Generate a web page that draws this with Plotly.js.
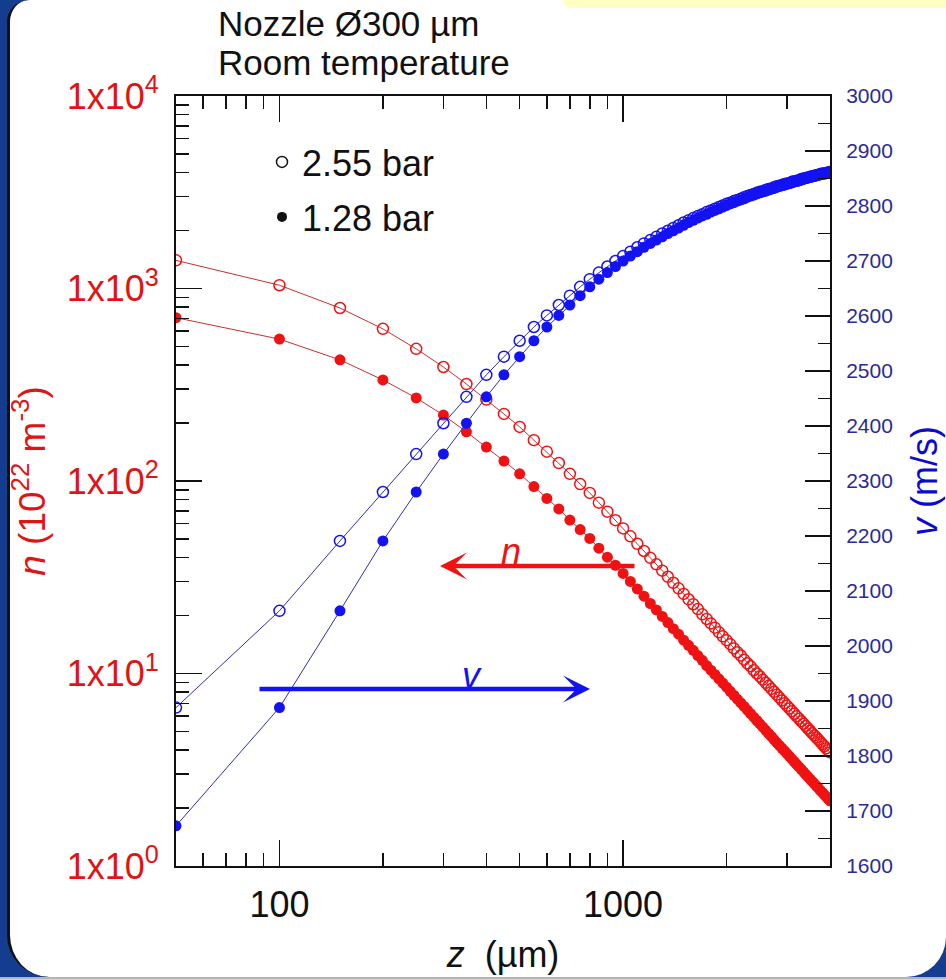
<!DOCTYPE html>
<html>
<head>
<meta charset="utf-8">
<script src="https://cdn.plot.ly/plotly-3.0.1.min.js"></script>
<style>
  html, body { margin: 0; padding: 0; background: #fff; }
  #frame { position: absolute; left: 0; top: 0; width: 946px; height: 979px; background: #143d8f; overflow: hidden; }
  #panel { position: absolute; left: 7px; top: 0; width: 939px; height: 977px; background: #fff;
           border-left: 3px solid #111; border-radius: 22px 0 40px 42px; box-sizing: border-box; }
  #base { position: absolute; left: 0; top: 977px; width: 946px; height: 2px; background: #b4b4b4; }
  #note { position: absolute; left: 563px; top: 0; width: 383px; height: 8px; background: #ffffc4;
          border-bottom-left-radius: 12px; }
  #chart { position: absolute; left: 0; top: 0; width: 946px; height: 979px; }
</style>
</head>
<body>
<div id="frame">
  <div id="panel"></div>
  <div id="base"></div>
  <div id="note"></div>
  <div id="chart"></div>
</div>
<script>
// Distance from the nozzle, z (µm)
const z = [50, 100, 150, 200, 250, 300, 350, 400, 450, 500, 550, 600, 650, 700, 750, 800, 850, 900, 950, 1000,
  1050, 1100, 1150, 1200, 1250, 1300, 1350, 1400, 1450, 1500, 1550, 1600, 1650, 1700, 1750, 1800, 1850, 1900, 1950, 2000,
  2050, 2100, 2150, 2200, 2250, 2300, 2350, 2400, 2450, 2500, 2550, 2600, 2650, 2700, 2750, 2800, 2850, 2900, 2950, 3000,
  3050, 3100, 3150, 3200, 3250, 3300, 3350, 3400, 3450, 3500, 3550, 3600, 3650, 3700, 3750, 3800, 3850, 3900, 3950, 4000];

// Density n (10^22 m^-3), stagnation pressure 2.55 bar
const nHigh = [1400, 1040, 792, 617, 486, 391, 319, 265, 223, 191, 163, 142, 124, 109, 96.4, 86.7, 77.2, 69.3, 62.6, 56.7,
  51.6, 47.2, 43.3, 39.9, 36.9, 34.2, 31.8, 29.6, 27.7, 25.9, 24.3, 22.9, 21.6, 20.3, 19.2, 18.2, 17.3, 16.4, 15.6, 14.9,
  14.2, 13.5, 12.9, 12.4, 11.8, 11.3, 10.9, 10.4, 10.0, 9.66, 9.29, 8.95, 8.63, 8.32, 8.03, 7.76, 7.50, 7.25, 7.01, 6.79,
  6.58, 6.37, 6.18, 5.99, 5.82, 5.65, 5.49, 5.33, 5.18, 5.04, 4.90, 4.77, 4.65, 4.53, 4.41, 4.30, 4.19, 4.09, 3.99, 3.89];

// Density n (10^22 m^-3), stagnation pressure 1.28 bar
const nLow = [705, 546, 426, 335, 270, 220, 180, 150, 127, 109, 93.6, 81.2, 71.6, 62.7, 55.9, 50.3, 44.8, 40.2, 36.5, 33.1,
  30.1, 27.5, 25.2, 23.1, 21.4, 19.8, 18.4, 17.1, 16.0, 14.9, 14.0, 13.2, 12.4, 11.7, 11.0, 10.4, 9.89, 9.38, 8.92, 8.49,
  8.08, 7.71, 7.36, 7.04, 6.74, 6.45, 6.18, 5.93, 5.70, 5.48, 5.27, 5.07, 4.88, 4.71, 4.54, 4.38, 4.23, 4.09, 3.96, 3.83,
  3.71, 3.59, 3.48, 3.37, 3.27, 3.18, 3.08, 2.99, 2.91, 2.83, 2.75, 2.68, 2.60, 2.54, 2.47, 2.41, 2.35, 2.29, 2.23, 2.18];

// Flow velocity v (m/s), 2.55 bar
const vHigh = [1888, 2064, 2191, 2280, 2349, 2405, 2453, 2493, 2526, 2555, 2580, 2601, 2620, 2637, 2653, 2667, 2679, 2690, 2700, 2709,
  2717, 2725, 2732, 2738, 2744, 2750, 2755, 2760, 2765, 2770, 2774, 2778, 2782, 2785, 2789, 2792, 2795, 2798, 2801, 2804,
  2806, 2809, 2811, 2813, 2816, 2818, 2820, 2822, 2824, 2826, 2827, 2829, 2831, 2832, 2834, 2836, 2837, 2838, 2840, 2841,
  2842, 2844, 2845, 2846, 2847, 2849, 2850, 2851, 2852, 2853, 2854, 2855, 2856, 2857, 2858, 2859, 2859, 2860, 2861, 2862];

// Flow velocity v (m/s), 1.28 bar
const vLow = [1673, 1888, 2064, 2191, 2280, 2349, 2405, 2453, 2493, 2526, 2555, 2580, 2601, 2620, 2637, 2653, 2667, 2679, 2690, 2700,
  2709, 2717, 2725, 2732, 2738, 2744, 2750, 2755, 2760, 2765, 2770, 2774, 2778, 2782, 2785, 2789, 2792, 2795, 2798, 2801,
  2804, 2806, 2809, 2811, 2813, 2816, 2818, 2820, 2822, 2824, 2826, 2827, 2829, 2831, 2832, 2834, 2836, 2837, 2838, 2840,
  2841, 2842, 2844, 2845, 2846, 2847, 2849, 2850, 2851, 2852, 2853, 2854, 2855, 2856, 2857, 2858, 2859, 2859, 2860, 2861];

// Axis ticks
const xTickVals = [100, 1000];
const xTickText = ['100', '1000'];
const xMinorVals = [60, 70, 80, 90, 200, 300, 400, 500, 600, 700, 800, 900, 2000, 3000, 4000];
const nTickVals = [1, 10, 100, 1000, 10000];
const nTickText = ['1x10<sup>0</sup>', '1x10<sup>1</sup>', '1x10<sup>2</sup>', '1x10<sup>3</sup>', '1x10<sup>4</sup>'];
const nMinorVals = [2, 3, 4, 5, 6, 7, 8, 9, 20, 30, 40, 50, 60, 70, 80, 90, 200, 300, 400, 500, 600, 700, 800, 900,
  2000, 3000, 4000, 5000, 6000, 7000, 8000, 9000];

const FONT = '"Liberation Sans", Arial, sans-serif';
const RED = '#f01212', RED_LINE = '#c83030';
const BLUE = '#1212f2', BLUE_LINE = '#3030a8';
const INK = '#111';

// plot area in page pixels
const L = 176, R = 830, T = 96, B = 866;
const px = p => (p - L) / (R - L);
const py = p => (B - p) / (B - T);

const traces = [
  { x: z, y: nHigh, yaxis: 'y', mode: 'lines+markers', showlegend: false,
    line: { color: RED_LINE, width: 1 },
    marker: { symbol: 'circle-open', size: 11, color: RED, line: { width: 1.5 } } },
  { x: z, y: nLow, yaxis: 'y', mode: 'lines+markers', showlegend: false,
    line: { color: RED_LINE, width: 1 },
    marker: { symbol: 'circle', size: 11, color: RED } },
  { x: z, y: vHigh, yaxis: 'y2', mode: 'lines+markers', showlegend: false,
    line: { color: BLUE_LINE, width: 1 },
    marker: { symbol: 'circle-open', size: 11, color: BLUE, line: { width: 1.5 } } },
  { x: z, y: vLow, yaxis: 'y2', mode: 'lines+markers', showlegend: false,
    line: { color: BLUE_LINE, width: 1 },
    marker: { symbol: 'circle', size: 11, color: BLUE } },
  // key entries for the two pressures
  { x: [null], y: [null], mode: 'markers', name: '2.55 bar', legend: 'legend',
    marker: { symbol: 'circle-open', size: 11, color: INK, line: { width: 1.5 } } },
  { x: [null], y: [null], mode: 'markers', name: '1.28 bar', legend: 'legend2',
    marker: { symbol: 'circle', size: 10, color: INK } }
];

const tickCommon = { ticks: 'inside', tickwidth: 1.5, tickcolor: INK, showline: true, linecolor: INK,
  linewidth: 2, showgrid: false, zeroline: false };

const legendCommon = { xanchor: 'left', yanchor: 'top', bgcolor: 'rgba(0,0,0,0)', borderwidth: 0,
  font: { family: FONT, size: 36, color: INK }, itemclick: false };

const layout = {
  width: 946, height: 979,
  margin: { l: L, r: 946 - R, t: T, b: 979 - B, pad: 0 },
  paper_bgcolor: 'rgba(0,0,0,0)', plot_bgcolor: 'rgba(0,0,0,0)',
  font: { family: FONT, color: INK },
  xaxis: Object.assign({}, tickCommon, {
    type: 'log', range: [Math.log10(50), Math.log10(4000)],
    tickmode: 'array', tickvals: xTickVals, ticktext: xTickText, ticklen: 26, mirror: 'ticks',
    tickfont: { size: 36, color: INK }, ticklabelstandoff: 6,
    minor: { tickmode: 'array', tickvals: xMinorVals, ticks: 'inside', ticklen: 13, tickwidth: 1.5, tickcolor: INK, showgrid: false },
    title: { text: '<i>z</i>  (µm)', font: { size: 36, color: INK }, standoff: 18 }
  }),
  yaxis: Object.assign({}, tickCommon, {
    type: 'log', range: [0, 4],
    tickmode: 'array', tickvals: nTickVals, ticktext: nTickText, ticklen: 26,
    tickfont: { size: 36, color: '#e01414' }, ticklabelstandoff: 8,
    minor: { tickmode: 'array', tickvals: nMinorVals, ticks: 'inside', ticklen: 13, tickwidth: 1.5, tickcolor: INK, showgrid: false },
    title: { text: '<i>n</i> (10<sup>22</sup> m<sup>-3</sup>)', font: { size: 37, color: '#e01414' }, standoff: 10 }
  }),
  yaxis2: Object.assign({}, tickCommon, {
    overlaying: 'y', side: 'right', range: [1600, 3000],
    tickmode: 'linear', tick0: 1600, dtick: 100, ticklen: 25,
    tickfont: { size: 21, color: '#2a2a9c' }, ticklabelstandoff: 10,
    minor: { dtick: 50, ticks: 'inside', ticklen: 12, tickwidth: 1.5, tickcolor: INK, showgrid: false },
    title: { text: '<i>v</i> (m/s)', font: { size: 36, color: '#0a0ad0' }, standoff: 20 }
  }),
  legend: Object.assign({}, legendCommon, { x: px(262), y: py(132) }),
  legend2: Object.assign({}, legendCommon, { x: px(262), y: py(187) }),
  annotations: [
    { xref: 'paper', yref: 'paper', x: px(216), y: py(24), xanchor: 'left', yanchor: 'middle', showarrow: false,
      text: 'Nozzle Ø300 µm', font: { size: 35, color: INK } },
    { xref: 'paper', yref: 'paper', x: px(216), y: py(62), xanchor: 'left', yanchor: 'middle', showarrow: false,
      text: 'Room temperature', font: { size: 35, color: INK } },
    // direction arrows: n read on the left axis, v on the right axis
    { xref: 'paper', yref: 'paper', x: px(440), y: py(566), axref: 'pixel', ayref: 'pixel', ax: 196, ay: 0,
      text: '', showarrow: true, arrowhead: 3, arrowsize: 1, arrowwidth: 4.5, arrowcolor: RED, standoff: 0, startstandoff: 0 },
    { xref: 'paper', yref: 'paper', x: px(590), y: py(689), axref: 'pixel', ayref: 'pixel', ax: -332, ay: 0,
      text: '', showarrow: true, arrowhead: 3, arrowsize: 1, arrowwidth: 4.5, arrowcolor: BLUE, standoff: 0, startstandoff: 0 },
    { xref: 'paper', yref: 'paper', x: px(511), y: py(551), xanchor: 'center', yanchor: 'middle', showarrow: false,
      text: '<i>n</i>', font: { size: 36, color: RED } },
    { xref: 'paper', yref: 'paper', x: px(472), y: py(675), xanchor: 'center', yanchor: 'middle', showarrow: false,
      text: '<i>v</i>', font: { size: 36, color: BLUE } }
  ]
};

Plotly.newPlot('chart', traces, layout, { displayModeBar: false, staticPlot: true });
</script>
</body>
</html>
